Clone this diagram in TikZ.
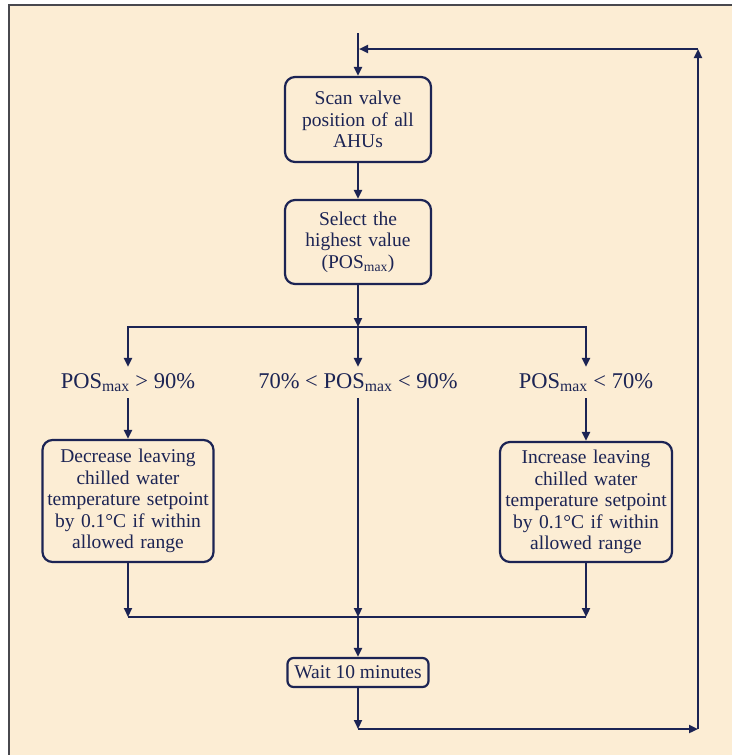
\documentclass[tikz,border=0pt]{standalone}
\usepackage{fontspec}
\setmainfont{Liberation Serif}
\usetikzlibrary{arrows.meta}
\definecolor{bg}{RGB}{252,237,212}
\definecolor{ink}{RGB}{28,36,84}
\definecolor{framec}{RGB}{72,72,78}
\begin{document}
\begin{tikzpicture}[x=1pt,y=-1pt,
  line width=2.2pt,
  box/.style={draw=ink, text=ink, rounded corners=10pt, align=center, inner sep=2pt,
    font=\fontsize{19.5}{21.5}\selectfont},
  lab/.style={text=ink, inner sep=0pt, minimum height=29pt,
    font=\fontsize{22.5}{27}\selectfont},
  arr/.style={draw=ink, -{Triangle[length=9pt,width=8pt]}},
  ln/.style={draw=ink}]
\useasboundingbox (0,0) rectangle (732,755);
% background and frame
\fill[bg] (9,5) rectangle (732,755);
\draw[framec, line width=2pt] (9,755) -- (9,5) -- (732,5);

% nodes
\node[box, minimum width=146pt, minimum height=85pt, text width=140pt] (scan) at (358,119.5)
  {Scan valve\\position of all\\AHUs};
\node[box, minimum width=146pt, minimum height=84pt, text width=140pt] (sel) at (358,242)
  {Select the\\highest value\\(POS\textsubscript{max})};
\node[lab] (l1) at (128,382.5) {POS\textsubscript{max} > 90\%};
\node[lab] (l2) at (358,382.5) {70\% < POS\textsubscript{max} < 90\%};
\node[lab] (l3) at (586,382.5) {POS\textsubscript{max} < 70\%};
\node[box, minimum width=171pt, minimum height=122pt, text width=165pt] (dec) at (128,501)
  {Decrease leaving\\chilled water\\temperature setpoint\\by 0.1°C if within\\allowed range};
\node[box, minimum width=172pt, minimum height=120pt, text width=166pt] (inc) at (586,502)
  {Increase leaving\\chilled water\\temperature setpoint\\by 0.1°C if within\\allowed range};
\node[box, minimum width=141pt, minimum height=29pt, rounded corners=6pt] (wait) at (358,672.5)
  {Wait 10 minutes};

% coordinates
\coordinate (start) at (358,33);
\coordinate (J) at (358,327);
\coordinate (M1) at (128,617);
\coordinate (M2) at (358,617);
\coordinate (M3) at (586,617);
\coordinate (B1) at (358,729);
\coordinate (B2) at (698,729);
\coordinate (B3) at (698,49);
\coordinate (B4) at (359,49);

% connectors
\draw[arr] (start) -- (scan.north);
\draw[arr] (scan.south) -- (sel.north);
\draw[arr] (sel.south) -- (J);
\draw[arr] (J) -| (l1.north);
\draw[arr] (J) -- (l2.north);
\draw[arr] (J) -| (l3.north);
\draw[arr] (l1.south) -- (dec.north);
\draw[arr] (l3.south) -- (inc.north);
\draw[arr] (dec.south) -- (M1);
\draw[arr] (inc.south) -- (M3);
\draw[ln] (M1) -- (M3);
\draw[arr] (l2.south) -- (M2);
\draw[arr] (M2) -- (wait.north);
\draw[arr] (wait.south) -- (B1);
\draw[arr] (B1) -- (B2);
\draw[arr] (B2) -- (B3);
\draw[arr] (B3) -- (B4);
\end{tikzpicture}
\end{document}
